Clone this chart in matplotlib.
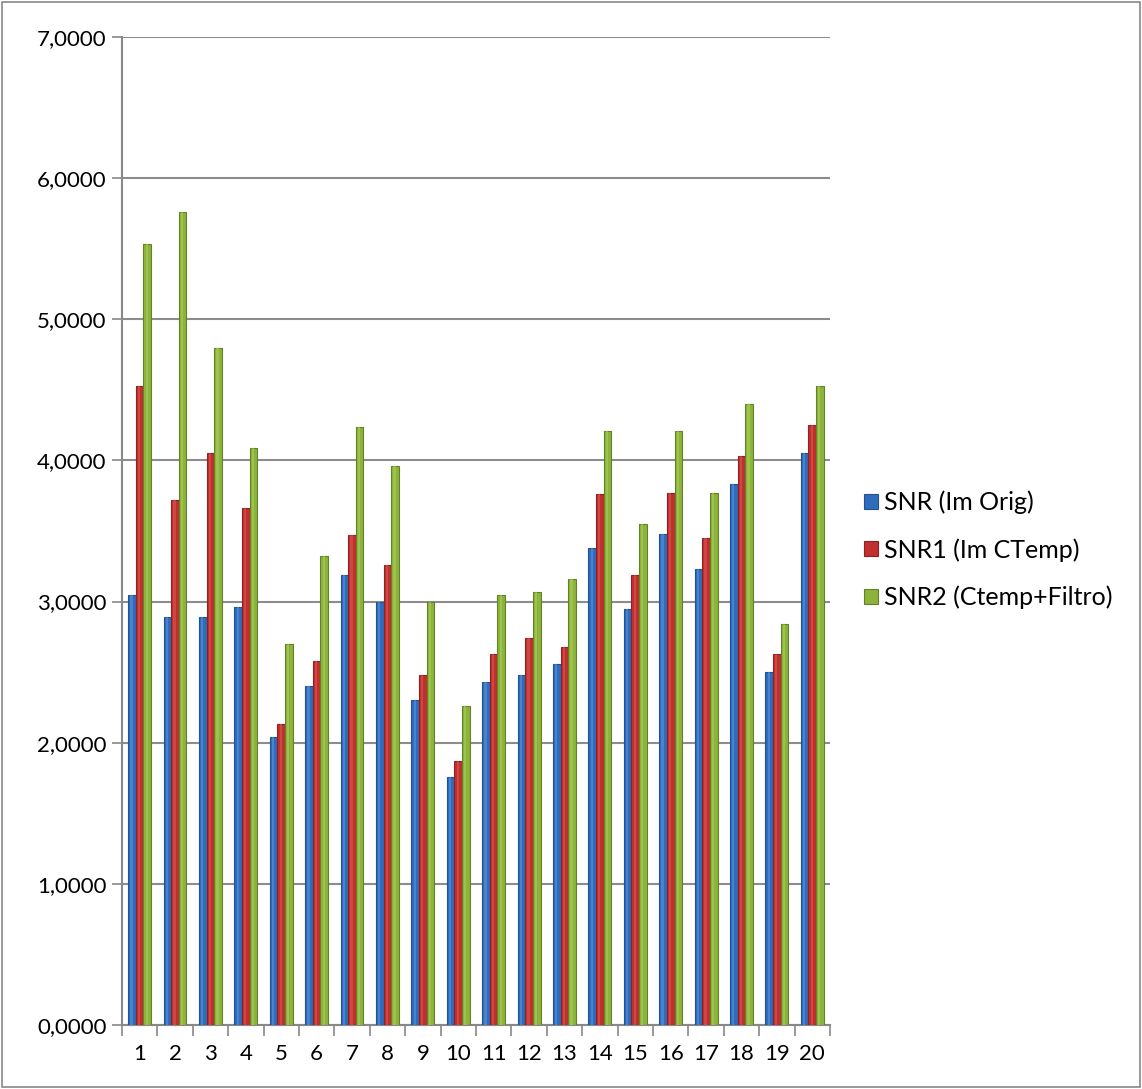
import matplotlib.pyplot as plt
import matplotlib.patches as mpatches
from matplotlib.ticker import FuncFormatter, FixedLocator
import numpy as np

plt.rcParams['font.family'] = ['Lato', 'DejaVu Sans']

categories = [str(i) for i in range(1, 21)]
snr = [3.05, 2.89, 2.89, 2.96, 2.04, 2.40, 3.19, 3.00, 2.30, 1.76,
       2.43, 2.48, 2.56, 3.38, 2.95, 3.48, 3.23, 3.83, 2.50, 4.05]
snr1 = [4.53, 3.72, 4.05, 3.66, 2.13, 2.58, 3.47, 3.26, 2.48, 1.87,
        2.63, 2.74, 2.68, 3.76, 3.19, 3.77, 3.45, 4.03, 2.63, 4.25]
snr2 = [5.53, 5.76, 4.80, 4.09, 2.70, 3.32, 4.24, 3.96, 3.00, 2.26,
        3.05, 3.07, 3.16, 4.21, 3.55, 4.21, 3.77, 4.40, 2.84, 4.53]
series_names = ['SNR (Im Orig)', 'SNR1 (Im CTemp)', 'SNR2 (Ctemp+Filtro)']

colors = ['#2f6cbd', '#c0302f', '#8cb43a']
edges = ['#24528f', '#8e2222', '#62812a']
shine = ['#5a93dc', '#dc5552', '#a9cc5a']

fig = plt.figure(figsize=(11.42, 10.89), dpi=100)
ax = fig.add_axes([0.1068, 0.0588, 0.62, 0.9072])

x = np.arange(len(categories))
w = 0.215
for k, (vals, c, e, s, name) in enumerate(zip([snr, snr1, snr2], colors, edges, shine, series_names)):
    ax.bar(x + (k - 1) * w, vals, w, color=c, edgecolor=e, linewidth=0.8,
           label=name, zorder=3)
    # lighter stripe to give the bars a rounded look
    ax.bar(x + (k - 1) * w - w * 0.08, vals, w * 0.3, color=s, linewidth=0,
           alpha=0.6, zorder=4)

ax.set_ylim(0, 7)
ax.set_xlim(-0.5, len(categories) - 0.5)
ax.set_yticks(np.arange(0, 8, 1))
ax.yaxis.set_major_formatter(FuncFormatter(lambda v, p: f'{v:.4f}'.replace('.', ',')))
ax.set_xticks(x)
ax.set_xticklabels(categories)
ax.xaxis.set_minor_locator(FixedLocator(np.arange(-0.5, len(categories), 1)))
ax.tick_params(axis='x', which='major', length=0, labelsize=16, pad=14)
ax.tick_params(axis='x', which='minor', length=8, width=1.2, color='#888888')
ax.tick_params(axis='y', length=7, width=1.2, color='#888888', labelsize=16, pad=4)

ax.grid(axis='y', color='#8c8c8c', linewidth=1.5, zorder=0)
for s in ['top', 'right']:
    ax.spines[s].set_visible(False)
for s in ['left', 'bottom']:
    ax.spines[s].set_color('#888888')
    ax.spines[s].set_linewidth(1.5)

handles = [mpatches.Patch(facecolor=c, edgecolor=e, linewidth=0.8) for c, e in zip(colors, edges)]
fig.legend(handles, series_names, loc='center left', bbox_to_anchor=(0.737, 0.495),
           frameon=False, fontsize=18, handlelength=0.55, handleheight=0.55,
           handletextpad=0.25, labelspacing=0.95)

fig.patches.append(mpatches.Rectangle((0.002, 0.002), 0.996, 0.996, transform=fig.transFigure,
                                      fill=False, edgecolor='#888888', linewidth=1.2))

plt.savefig('out.png')
